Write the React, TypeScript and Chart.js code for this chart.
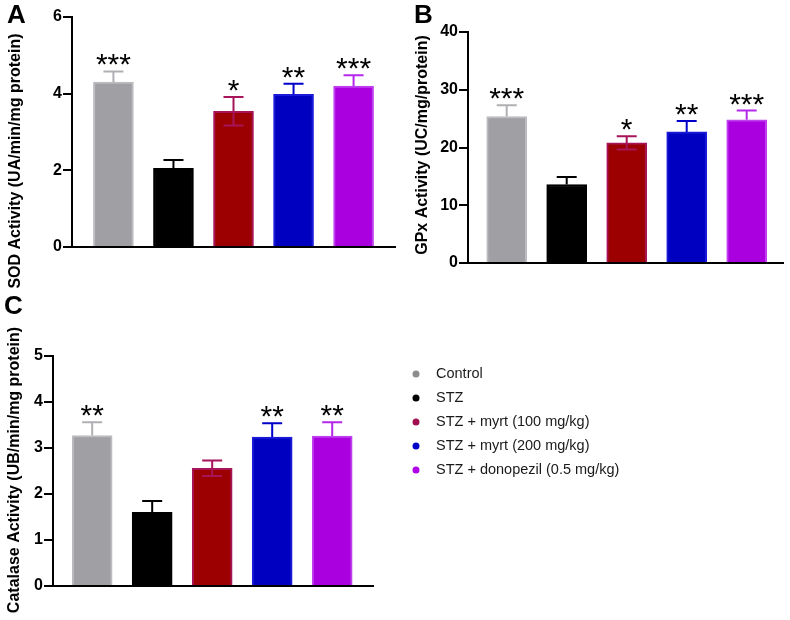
import React, { useEffect, useRef } from 'react';
import { Chart, registerables } from 'chart.js';

Chart.register(...registerables);

const FONT = '"Liberation Sans", Arial, Helvetica, sans-serif';

const categories = [
  'Control',
  'STZ',
  'STZ + myrt (100 mg/kg)',
  'STZ + myrt (200 mg/kg)',
  'STZ + donopezil (0.5 mg/kg)',
];

const sodValues = [4.3, 2.05, 3.54, 3.98, 4.2];
const sodErrors = [0.28, 0.22, 0.37, 0.28, 0.28];
const sodStars = ['***', '', '*', '**', '***'];
const sodTicks = [0, 2, 4, 6];

const gpxValues = [25.35, 13.6, 20.8, 22.7, 24.8];
const gpxErrors = [1.95, 1.3, 1.15, 1.9, 1.6];
const gpxStars = ['***', '', '*', '**', '***'];
const gpxTicks = [0, 10, 20, 30, 40];

const catValues = [3.27, 1.6, 2.56, 3.24, 3.26];
const catErrors = [0.29, 0.25, 0.17, 0.3, 0.3];
const catStars = ['**', '', '', '**', '**'];
const catTicks = [0, 1, 2, 3, 4, 5];

const fillColors = ['#a0a0a4', '#000000', '#9c0000', '#0000c0', '#aa00e0'];
const borderColors = ['#bcbcc0', '#000000', '#a8145a', '#1a1ad8', '#c040f0'];
const errColors = ['#b0b0b4', '#000000', '#a8145a', '#0000c8', '#b428ec'];
const lowerWhisker = [false, false, true, false, false];
const legendColors = ['#8c8c8c', '#000000', '#a01050', '#0000c8', '#b000e8'];

type Panel = {
  letter: string;
  letterX: number;
  letterY: number;
  title: string;
  titleX: number;
  titleY: number;
  values: number[];
  errors: number[];
  stars: string[];
  ticks: number[];
  area: { left: number; top: number; right: number; bottom: number };
  xMin: number;
  xMax: number;
  legend?: boolean;
};

const panels: Panel[] = [
  {
    letter: 'A', letterX: 7, letterY: 23,
    title: 'SOD Activity (UA/min/mg protein)', titleX: 16, titleY: 161,
    values: sodValues, errors: sodErrors, stars: sodStars, ticks: sodTicks,
    area: { left: 72, top: 17, right: 395, bottom: 247 },
    xMin: -0.69, xMax: 4.69,
  },
  {
    letter: 'B', letterX: 414, letterY: 23,
    title: 'GPx Activity (UC/mg/protein)', titleX: 423, titleY: 145,
    values: gpxValues, errors: gpxErrors, stars: gpxStars, ticks: gpxTicks,
    area: { left: 468, top: 32, right: 783, bottom: 263 },
    xMin: -0.645, xMax: 4.605,
  },
  {
    letter: 'C', letterX: 4, letterY: 314,
    title: 'Catalase Activity (UB/min/mg protein)', titleX: 15, titleY: 470,
    values: catValues, errors: catErrors, stars: catStars, ticks: catTicks,
    area: { left: 53, top: 356, right: 373, bottom: 586 },
    xMin: -0.653, xMax: 4.68,
    legend: true,
  },
];

const W = 790;
const H = 620;
const Y_AXIS_W = 40;

function makeChart(canvas: HTMLCanvasElement, p: Panel) {
  const tickMax = p.ticks[p.ticks.length - 1];
  const step = p.ticks[1] - p.ticks[0];
  const decor = {
    id: 'decor' + p.letter,
    afterDatasetsDraw(chart: any) {
      const ctx = chart.ctx as CanvasRenderingContext2D;
      const xs = chart.scales.x;
      const ys = chart.scales.y;
      ctx.save();
      p.values.forEach((v, i) => {
        const x = xs.getPixelForValue(i);
        const yTop = ys.getPixelForValue(v + p.errors[i]);
        const yVal = ys.getPixelForValue(v);
        const yLow = ys.getPixelForValue(v - p.errors[i]);
        ctx.strokeStyle = errColors[i];
        ctx.lineWidth = 2;
        ctx.beginPath();
        ctx.moveTo(x, lowerWhisker[i] ? yLow : yVal);
        ctx.lineTo(x, yTop);
        ctx.moveTo(x - 10, yTop);
        ctx.lineTo(x + 10, yTop);
        if (lowerWhisker[i]) {
          ctx.moveTo(x - 10, yLow);
          ctx.lineTo(x + 10, yLow);
        }
        ctx.stroke();
        if (p.stars[i]) {
          ctx.fillStyle = '#000';
          ctx.font = `30px ${FONT}`;
          ctx.textAlign = 'center';
          ctx.textBaseline = 'alphabetic';
          ctx.fillText(p.stars[i], x, yTop + 3);
        }
      });
      // panel letter
      ctx.fillStyle = '#000';
      ctx.font = `bold 26px ${FONT}`;
      ctx.textAlign = 'left';
      ctx.textBaseline = 'alphabetic';
      ctx.fillText(p.letter, p.letterX, p.letterY);
      // y title
      ctx.save();
      ctx.translate(p.titleX, p.titleY);
      ctx.rotate(-Math.PI / 2);
      ctx.font = `bold 16px ${FONT}`;
      ctx.textAlign = 'center';
      ctx.textBaseline = 'middle';
      ctx.fillText(p.title, 0, 0);
      ctx.restore();
      if (p.legend) {
        categories.forEach((c, i) => {
          const y = 374 + i * 24;
          ctx.fillStyle = legendColors[i];
          ctx.beginPath();
          ctx.arc(416, y, 3.5, 0, Math.PI * 2);
          ctx.fill();
          ctx.fillStyle = '#1a1a1a';
          ctx.font = `14.5px ${FONT}`;
          ctx.textAlign = 'left';
          ctx.textBaseline = 'middle';
          ctx.fillText(c, 436, y);
        });
      }
      ctx.restore();
    },
  };

  return new Chart(canvas, {
    type: 'bar',
    data: {
      datasets: [
        {
          data: p.values.map((v, i) => ({ x: i, y: v })) as any,
          backgroundColor: fillColors,
          borderColor: borderColors,
          borderWidth: 2,
          barThickness: 40,
        },
      ],
    },
    options: {
      animation: false,
      responsive: false,
      maintainAspectRatio: false,
      layout: {
        padding: {
          left: p.area.left - Y_AXIS_W,
          top: p.area.top,
          right: W - p.area.right,
          bottom: H - p.area.bottom,
        },
      },
      plugins: { legend: { display: false }, tooltip: { enabled: false } },
      scales: {
        x: {
          type: 'linear',
          offset: false,
          bounds: 'ticks',
          min: p.xMin,
          max: p.xMax,
          ticks: { display: false },
          grid: { display: false, offset: false },
          border: { display: true, color: '#000', width: 2 },
          afterFit: (s: any) => {
            s.height = 0;
            s.paddingLeft = 0;
            s.paddingRight = 0;
            s.paddingTop = 0;
            s.paddingBottom = 0;
          },
        },
        y: {
          min: 0,
          max: tickMax,
          ticks: {
            stepSize: step,
            color: '#000',
            padding: 1,
            font: { family: FONT, size: 16, weight: 'bold' },
          },
          grid: {
            drawOnChartArea: false,
            drawTicks: true,
            tickLength: 9,
            color: '#000',
            lineWidth: 2,
          },
          border: { display: true, color: '#000', width: 2 },
          afterFit: (s: any) => {
            s.width = Y_AXIS_W;
            s.paddingTop = 0;
            s.paddingBottom = 0;
            s.paddingLeft = 0;
            s.paddingRight = 0;
          },
        },
      },
    } as any,
    plugins: [decor],
  });
}

export default function App() {
  const refs = [useRef<HTMLCanvasElement>(null), useRef<HTMLCanvasElement>(null), useRef<HTMLCanvasElement>(null)];
  useEffect(() => {
    const charts = panels.map((p, i) => makeChart(refs[i].current!, p));
    return () => charts.forEach((c) => c.destroy());
  }, []);
  return (
    <div style={{ position: 'fixed', left: 0, top: 0, width: W, height: H, background: '#fff' }}>
      {panels.map((p, i) => (
        <canvas
          key={p.letter}
          ref={refs[i]}
          width={W}
          height={H}
          style={{ position: 'absolute', left: 0, top: 0, width: W, height: H }}
        />
      ))}
    </div>
  );
}
